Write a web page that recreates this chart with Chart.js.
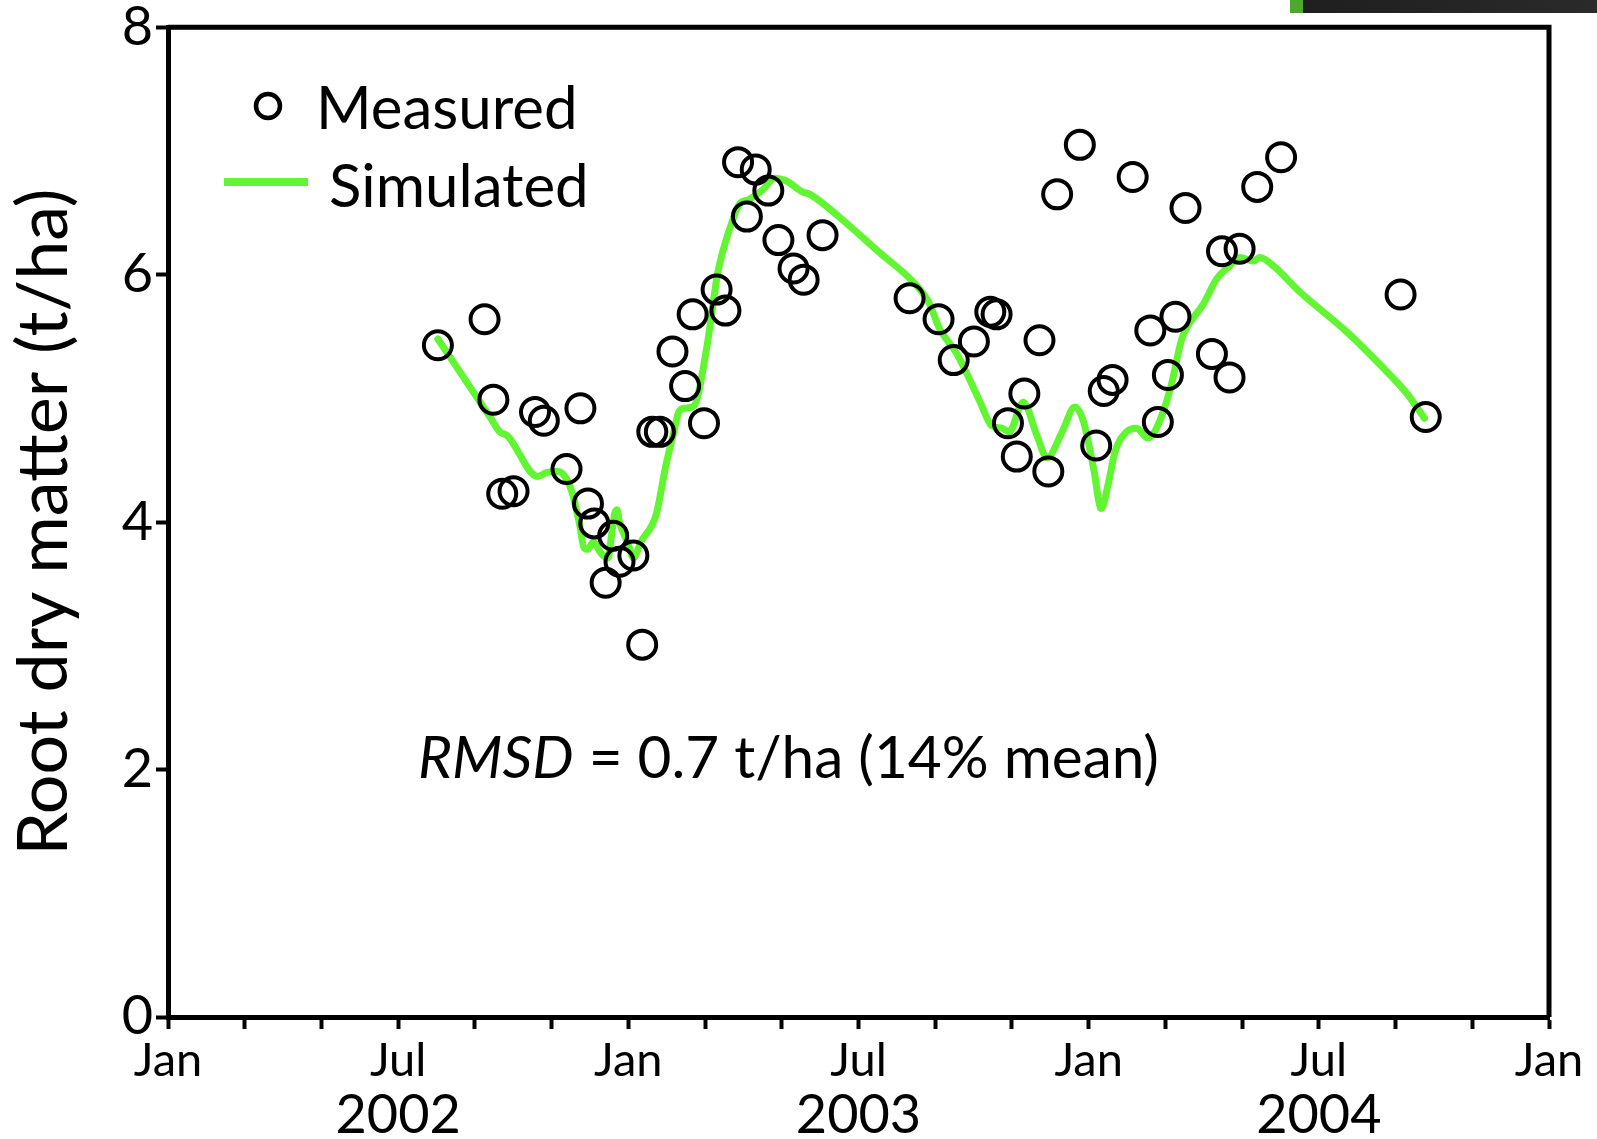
<!DOCTYPE html>
<html lang="en">

<head>
  <meta charset="UTF-8" />
  <title>Root dry matter</title>
  <script src="https://cdn.jsdelivr.net/npm/chart.js"></script>
  <style>
    body { margin: 0; background: #fff; }
    #wrap { position: relative; width: 1597px; height: 1139px; }
    #bar { position: absolute; top: 0; left: 1290px; width: 307px; height: 13px;
           background: linear-gradient(to right, #4fa82e 0, #4fa82e 13px, #1f1f1f 13px, #2a2a2a 100%); }
  </style>
</head>

<body>
  <div id="wrap">
    <canvas id="rootChart"></canvas>
    <div id="bar"></div>
  </div>

  <script>
    // Measured root dry matter (t/ha)
    const measuredDates = [
      '2002-08-03', '2002-09-09', '2002-09-16', '2002-09-23', '2002-10-02', '2002-10-19', '2002-10-26',
      '2002-11-13', '2002-11-24', '2002-11-30', '2002-12-05', '2002-12-20', '2002-12-25', '2002-12-14',
      '2003-01-05', '2003-01-12', '2003-01-20', '2003-01-26', '2003-02-05', '2003-02-15', '2003-02-21',
      '2003-03-02', '2003-03-12', '2003-03-19', '2003-03-29', '2003-04-12', '2003-04-05', '2003-04-22',
      '2003-04-30', '2003-05-12', '2003-05-20', '2003-06-04', '2003-08-12', '2003-09-04', '2003-09-16',
      '2003-10-02', '2003-10-15', '2003-10-20', '2003-10-29', '2003-11-05', '2003-11-11', '2003-11-23',
      '2003-11-30', '2003-12-07', '2003-12-25', '2004-01-07', '2004-01-13', '2004-01-20', '2004-02-05',
      '2004-02-19', '2004-02-25', '2004-03-04', '2004-03-10', '2004-03-18', '2004-04-08', '2004-04-16',
      '2004-04-22', '2004-04-30', '2004-05-14', '2004-06-02', '2004-09-05', '2004-09-25'
    ];
    const measuredRDM = [
      5.43, 5.64, 4.99, 4.23, 4.25, 4.89, 4.82,
      4.43, 4.92, 4.15, 3.99, 3.89, 3.68, 3.51,
      3.73, 3.01, 4.73, 4.73, 5.38, 5.10, 5.68,
      4.80, 5.88, 5.71, 6.91, 6.85, 6.47, 6.68,
      6.28, 6.05, 5.96, 6.32, 5.81, 5.64, 5.31,
      5.46, 5.70, 5.68, 4.80, 4.53, 5.04, 5.47,
      4.41, 6.65, 7.05, 4.62, 5.06, 5.15, 6.79,
      5.55, 4.81, 5.19, 5.66, 6.54, 5.36, 6.19,
      5.17, 6.21, 6.71, 6.95, 5.84, 4.85
    ];

    // Simulated root dry matter (t/ha)
    const simDates = [
      '2002-08-03', '2002-09-14', '2002-09-21', '2002-09-27', '2002-10-21', '2002-10-28', '2002-11-06',
      '2002-11-13', '2002-11-18', '2002-11-23', '2002-11-27', '2002-11-30', '2002-12-04', '2002-12-11',
      '2002-12-16', '2002-12-18', '2002-12-21', '2002-12-23', '2002-12-25', '2003-01-01', '2003-01-05',
      '2003-01-11', '2003-01-23', '2003-01-31', '2003-02-05', '2003-02-10', '2003-02-14', '2003-02-22',
      '2003-03-04', '2003-03-13', '2003-03-24', '2003-03-30', '2003-04-07', '2003-04-18', '2003-04-27',
      '2003-05-06', '2003-05-19', '2003-05-25', '2003-06-18', '2003-07-19', '2003-08-15', '2003-08-27',
      '2003-09-05', '2003-09-18', '2003-09-26', '2003-10-07', '2003-10-16', '2003-10-24', '2003-10-30',
      '2003-11-10', '2003-11-21', '2003-11-29', '2003-12-11', '2003-12-21', '2003-12-28', '2004-01-05',
      '2004-01-11', '2004-01-17', '2004-01-22', '2004-01-31', '2004-02-08', '2004-02-17', '2004-02-24',
      '2004-03-06', '2004-03-15', '2004-03-20', '2004-04-01', '2004-04-12', '2004-04-22', '2004-04-30',
      '2004-05-11', '2004-05-16', '2004-05-27', '2004-06-17', '2004-07-24', '2004-08-20', '2004-09-10',
      '2004-09-24'
    ];
    const simRDM = [
      5.48, 4.84, 4.73, 4.70, 4.37, 4.40, 4.41,
      4.35, 4.22, 4.00, 3.79, 3.78, 3.84, 3.74,
      3.71, 3.84, 4.06, 4.10, 4.00, 3.82, 3.71,
      3.84, 4.06, 4.47, 4.68, 4.89, 4.92, 4.94,
      5.40, 6.02, 6.42, 6.57, 6.61, 6.69, 6.78,
      6.76, 6.67, 6.65, 6.46, 6.18, 5.94, 5.78,
      5.56, 5.37, 5.21, 4.97, 4.78, 4.76, 4.73,
      4.97, 4.70, 4.52, 4.73, 4.93, 4.81, 4.43,
      4.11, 4.33, 4.57, 4.73, 4.76, 4.68, 4.76,
      5.08, 5.48, 5.59, 5.76, 5.97, 6.07, 6.14,
      6.11, 6.14, 6.07, 5.86, 5.54, 5.27, 5.04,
      4.84
    ];

    const yTicks = [0, 2, 4, 6, 8];
    const monthLabels = ['Jan', '', '', 'Jul', '', ''];
    const yearLabels = ['2002', '2003', '2004'];
    const rmsdLabel = ['RMSD', ' = 0.7 t/ha (14% mean)'];

    const FONT = 'Lato';
    const GREEN = '#62f531';

    // date string -> decimal year
    function toYear(s) {
      const [y, m, d] = s.split('-').map(Number);
      const start = Date.UTC(y, 0, 1);
      const len = Date.UTC(y + 1, 0, 1) - start;
      return y + (Date.UTC(y, m - 1, d) - start) / len;
    }

    const measured = measuredDates.map((d, i) => ({ x: toYear(d), y: measuredRDM[i] }));
    const simulated = simDates.map((d, i) => ({ x: toYear(d), y: simRDM[i] }));

    const monthTicks = [];
    for (let k = 0; k <= 18; k++) monthTicks.push(2002 + k / 6);
    const yearTicks = yearLabels.map(y => Number(y) + 0.5);

    // box, legend and RMSD note
    const extras = {
      id: 'extras',
      afterDraw(chart) {
        const { ctx, chartArea: a, scales } = chart;
        ctx.save();
        ctx.strokeStyle = '#000';
        ctx.lineWidth = 5;
        ctx.beginPath();
        ctx.moveTo(a.left, a.top);
        ctx.lineTo(a.right, a.top);
        ctx.lineTo(a.right, a.bottom);
        ctx.stroke();

        // legend
        ctx.lineWidth = 4.5;
        ctx.beginPath();
        ctx.arc(268, 106, 12, 0, Math.PI * 2);
        ctx.stroke();
        ctx.strokeStyle = GREEN;
        ctx.lineWidth = 8;
        ctx.beginPath();
        ctx.moveTo(224, 182);
        ctx.lineTo(308, 182);
        ctx.stroke();
        ctx.fillStyle = '#000';
        ctx.font = `60px ${FONT}`;
        ctx.textBaseline = 'alphabetic';
        ctx.fillText('Measured', 316, 129);
        ctx.fillText('Simulated', 329, 207);

        // RMSD
        let x = scales.x.getPixelForValue(2002.543);
        const y = scales.y.getPixelForValue(1.93);
        ctx.font = `italic 58.5px ${FONT}`;
        ctx.fillText(rmsdLabel[0], x, y);
        x += ctx.measureText(rmsdLabel[0]).width;
        ctx.font = `58.5px ${FONT}`;
        ctx.fillText(rmsdLabel[1], x, y);
        ctx.restore();
      }
    };

    new Chart(document.getElementById('rootChart'), {
      type: 'scatter',
      data: {
        datasets: [
          {
            label: 'Measured',
            data: measured,
            showLine: false,
            pointStyle: 'circle',
            pointRadius: 14,
            pointHoverRadius: 14,
            pointBorderWidth: 4,
            pointHoverBorderWidth: 4,
            borderColor: '#000',
            backgroundColor: 'rgba(0,0,0,0)',
            order: 0
          },
          {
            label: 'Simulated',
            data: simulated,
            showLine: true,
            borderColor: GREEN,
            borderWidth: 7,
            pointRadius: 0,
            pointHoverRadius: 0,
            cubicInterpolationMode: 'monotone',
            borderCapStyle: 'round',
            borderJoinStyle: 'round',
            order: 1
          }
        ]
      },
      options: {
        responsive: true,
        maintainAspectRatio: false,
        animation: false,
        layout: { padding: { top: 0, right: 48, left: 0, bottom: 0 } },
        plugins: {
          legend: { display: false },
          tooltip: { enabled: false }
        },
        scales: {
          x: {
            type: 'linear',
            position: 'bottom',
            min: 2002,
            max: 2005,
            afterBuildTicks: s => { s.ticks = monthTicks.map(v => ({ value: v })); },
            afterFit: s => { s.height = 63; },
            ticks: {
              autoSkip: false,
              maxRotation: 0,
              padding: 4,
              color: '#000',
              font: { family: FONT, size: 47 },
              callback: (v, i) => monthLabels[i % 6]
            },
            grid: { drawOnChartArea: false, tickLength: 12, tickWidth: 4, color: '#000' },
            border: { display: true, width: 5, color: '#000' }
          },
          x2: {
            type: 'linear',
            position: 'bottom',
            min: 2002,
            max: 2005,
            afterBuildTicks: s => { s.ticks = yearTicks.map(v => ({ value: v })); },
            afterFit: s => { s.height = 59; },
            ticks: {
              autoSkip: false,
              maxRotation: 0,
              padding: -5,
              color: '#000',
              font: { family: FONT, size: 54 },
              callback: (v, i) => yearLabels[i]
            },
            grid: { display: false },
            border: { display: false }
          },
          y: {
            min: 0,
            max: 8,
            afterBuildTicks: s => { s.ticks = yTicks.map(v => ({ value: v })); },
            afterFit: s => { s.width = 168; },
            ticks: {
              padding: 3,
              color: '#000',
              font: { family: FONT, size: 54, lineHeight: 0.9 }
            },
            grid: { drawOnChartArea: false, tickLength: 12, tickWidth: 4, color: '#000' },
            border: { display: true, width: 5, color: '#000' },
            title: {
              display: true,
              text: 'Root dry matter (t/ha)',
              color: '#000',
              font: { family: FONT, size: 70 },
              padding: { top: 2, bottom: 0 }
            }
          }
        }
      },
      plugins: [extras]
    });
  </script>
</body>

</html>
